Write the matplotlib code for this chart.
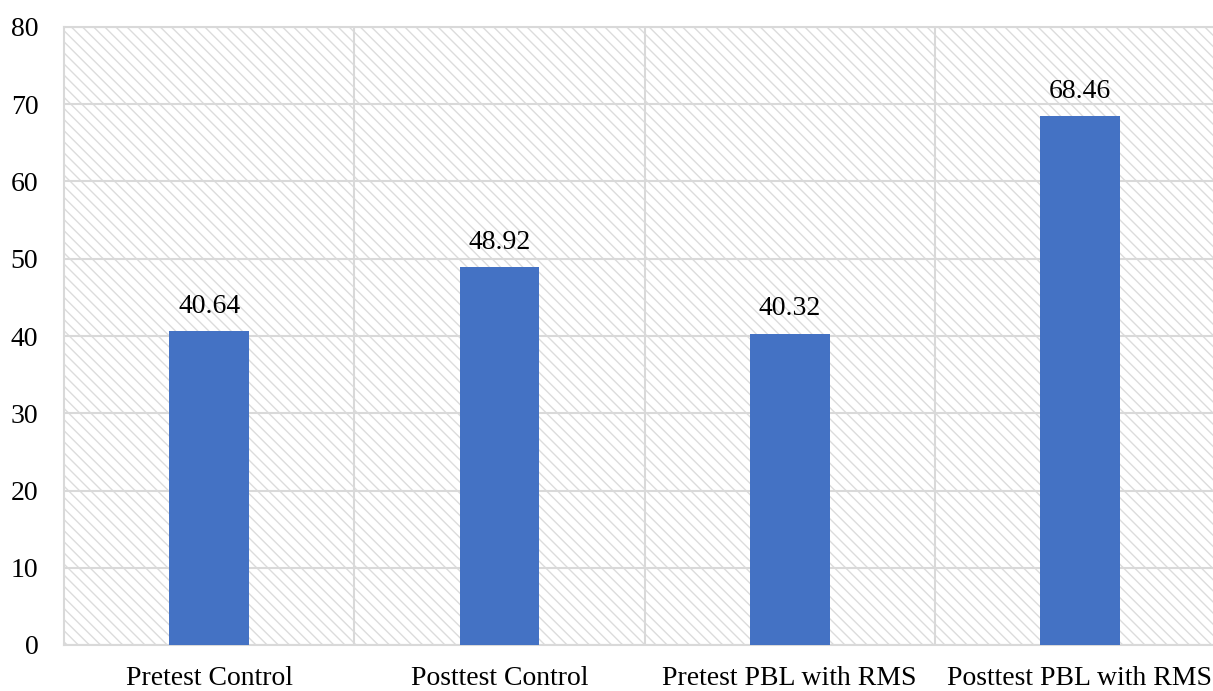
import matplotlib
matplotlib.use("Agg")
import matplotlib.pyplot as plt
from matplotlib.patches import Rectangle

categories = ["Pretest Control", "Posttest Control", "Pretest PBL with RMS", "Posttest PBL with RMS"]
values = [40.64, 48.92, 40.32, 68.46]
yticks = [0, 10, 20, 30, 40, 50, 60, 70, 80]

plt.rcParams['font.family'] = ['Liberation Serif', 'DejaVu Serif']
plt.rcParams['hatch.color'] = '#dcdcdc'
plt.rcParams['hatch.linewidth'] = 1.0

fig = plt.figure(figsize=(12.13, 6.91), dpi=100)
ax = fig.add_axes([64/1213, 1 - 645/691, 1 - 64/1213 + 0.01, (645 - 27)/691])

grid_c = '#d9d9d9'
ax.add_patch(Rectangle((0, 0), 1, 1, transform=ax.transAxes, facecolor='white',
                       edgecolor='#dcdcdc', hatch='\\\\\\', linewidth=0, zorder=0))

x = list(range(len(categories)))
bars = ax.bar(x, values, width=0.275, color='#4472C4', zorder=3)
for xi, v in zip(x, values):
    ax.text(xi, v + 2.35, f"{v:.2f}", ha='center', va='baseline', fontsize=20, color='black', zorder=4)

ax.set_xlim(-0.5, 3.5)
ax.set_ylim(0, 80)
ax.set_yticks(yticks)
ax.set_xticks(x)
ax.set_xticklabels(categories)
ax.set_xticks([0.5, 1.5, 2.5], minor=True)
ax.tick_params(axis='both', which='both', length=0, labelsize=20, colors='black')
ax.tick_params(axis='x', pad=15)
ax.tick_params(axis='y', pad=18.5)
ax.grid(axis='y', color=grid_c, linewidth=1.5, zorder=1)
ax.grid(axis='x', which='minor', color=grid_c, linewidth=1.5, zorder=1)
ax.grid(axis='x', which='major', visible=False)
for s in ax.spines.values():
    s.set_color(grid_c)
    s.set_linewidth(1.5)
ax.spines['right'].set_visible(False)

fig.savefig('out.png', dpi=100)
